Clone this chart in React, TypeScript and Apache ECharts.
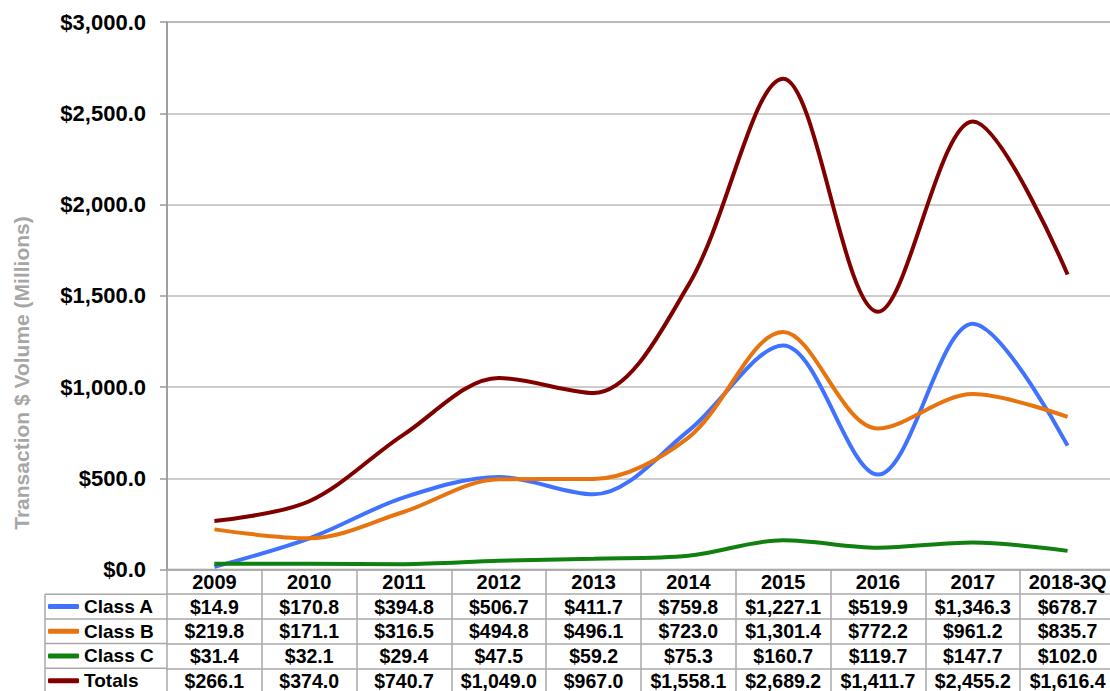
import React, { useEffect, useRef } from "react";
import * as echarts from "echarts";

const years = ["2009", "2010", "2011", "2012", "2013", "2014", "2015", "2016", "2017", "2018-3Q"];
const seriesNames = ["Class A", "Class B", "Class C", "Totals"];
const classA = [14.9, 170.8, 394.8, 506.7, 411.7, 759.8, 1227.1, 519.9, 1346.3, 678.7];
const classB = [219.8, 171.1, 316.5, 494.8, 496.1, 723.0, 1301.4, 772.2, 961.2, 835.7];
const classC = [31.4, 32.1, 29.4, 47.5, 59.2, 75.3, 160.7, 119.7, 147.7, 102.0];
const totals = [266.1, 374.0, 740.7, 1049.0, 967.0, 1558.1, 2689.2, 1411.7, 2455.2, 1616.4];
const seriesColors = ["#3F72FF", "#E8740F", "#108010", "#800000"];
const yMin = 0;
const yMax = 3000;
const yInterval = 500;
const yTitle = "Transaction $ Volume (Millions)";

const money = (v: number) =>
  "$" + v.toLocaleString("en-US", { minimumFractionDigits: 1, maximumFractionDigits: 1 });

const FONT = "'Liberation Sans', Arial, sans-serif";
const GRID_LEFT = 167;
const GRID_TOP = 22;
const GRID_W = 948;
const GRID_H = 547.5;
const ROW_H = 24.7;
const BORDER = "#A8A8A8";
const TABLE_LEFT = 45;

export default function App() {
  const ref = useRef<HTMLDivElement>(null);

  useEffect(() => {
    if (!ref.current) return;
    const chart = echarts.init(ref.current, undefined, { renderer: "svg" });
    const allData = [classA, classB, classC, totals];
    const bottom = GRID_TOP + GRID_H;

    const tableAxes = allData.map((arr, i) => ({
      type: "category",
      gridIndex: 0,
      position: "bottom",
      offset: (i + 1) * ROW_H,
      data: arr.map(money),
      boundaryGap: true,
      axisLine: { show: true, lineStyle: { color: BORDER, width: 1.5 } },
      axisTick: { show: true, interval: 0, length: ROW_H, lineStyle: { color: BORDER, width: 1.5 } },
      axisLabel: {
        interval: 0,
        margin: ROW_H / 2,
        verticalAlign: "middle",
        color: "#000",
        fontWeight: "bold",
        fontSize: 19.5,
        fontFamily: FONT,
      },
      splitLine: { show: false },
    }));

    const borderLines: any[] = [];
    for (let k = 1; k <= 4; k++) {
      const y = bottom + k * ROW_H;
      borderLines.push({
        type: "line",
        shape: { x1: TABLE_LEFT, y1: y, x2: GRID_LEFT, y2: y },
        style: { stroke: BORDER, lineWidth: 1.5 },
        silent: true,
      });
    }
    borderLines.push({
      type: "line",
      shape: { x1: TABLE_LEFT, y1: bottom + ROW_H, x2: TABLE_LEFT, y2: 700 },
      style: { stroke: BORDER, lineWidth: 1.5 },
      silent: true,
    });

    chart.setOption({
      animation: false,
      textStyle: { fontFamily: FONT },
      grid: {
        left: GRID_LEFT,
        top: GRID_TOP,
        width: GRID_W,
        height: GRID_H,
        containLabel: false,
        outerBoundsMode: "none",
        show: true,
        borderColor: "#9A9A9A",
        borderWidth: 1.5,
      },
      legend: {
        data: seriesNames,
        orient: "vertical",
        left: 48,
        top: bottom + ROW_H,
        width: 118,
        height: 140,
        itemGap: 0,
        padding: 0,
        icon: "roundRect",
        itemWidth: 31,
        itemHeight: 5,
        selectedMode: false,
        textStyle: {
          color: "#000",
          fontWeight: "bold",
          fontSize: 19,
          fontFamily: FONT,
          lineHeight: ROW_H,
        },
      },
      xAxis: [
        {
          type: "category",
          gridIndex: 0,
          position: "bottom",
          data: years,
          boundaryGap: true,
          axisLine: { show: true, lineStyle: { color: BORDER, width: 1.5 } },
          axisTick: { show: true, interval: 0, length: ROW_H, lineStyle: { color: BORDER, width: 1.5 } },
          axisLabel: {
            interval: 0,
            margin: ROW_H / 2,
            verticalAlign: "middle",
            color: "#000",
            fontWeight: "bold",
            fontSize: 20,
            fontFamily: FONT,
          },
          splitLine: { show: false },
        },
        ...tableAxes,
      ],
      yAxis: {
        type: "value",
        min: yMin,
        max: yMax,
        interval: yInterval,
        axisLine: { show: true, lineStyle: { color: "#9A9A9A", width: 1.5 } },
        axisTick: { show: true, length: 7, lineStyle: { color: "#9A9A9A", width: 1.5 } },
        axisLabel: {
          formatter: (v: number) => money(v),
          margin: 21,
          color: "#000",
          fontWeight: "bold",
          fontSize: 22,
          fontFamily: FONT,
        },
        splitLine: { show: true, lineStyle: { color: "#BDBDBD", width: 1.5 } },
      },
      graphic: [
        {
          type: "text",
          x: 21,
          y: 373,
          rotation: Math.PI / 2,
          silent: true,
          style: {
            text: yTitle,
            fill: "#A6A6A6",
            fontSize: 21,
            fontWeight: "bold",
            fontFamily: FONT,
            align: "center",
            verticalAlign: "middle",
          },
        },
        ...borderLines,
      ],
      series: allData.map((arr, i) => ({
        name: seriesNames[i],
        type: "line",
        xAxisIndex: 0,
        yAxisIndex: 0,
        data: arr,
        smooth: 0.33,
        symbol: "none",
        showSymbol: false,
        color: seriesColors[i],
        lineStyle: { color: seriesColors[i], width: 4 },
        emphasis: { disabled: true },
      })),
    });

    return () => {
      chart.dispose();
    };
  }, []);

  return (
    <div
      ref={ref}
      style={{ position: "fixed", left: 0, top: 0, width: 1110, height: 691, background: "#fff" }}
    />
  );
}
